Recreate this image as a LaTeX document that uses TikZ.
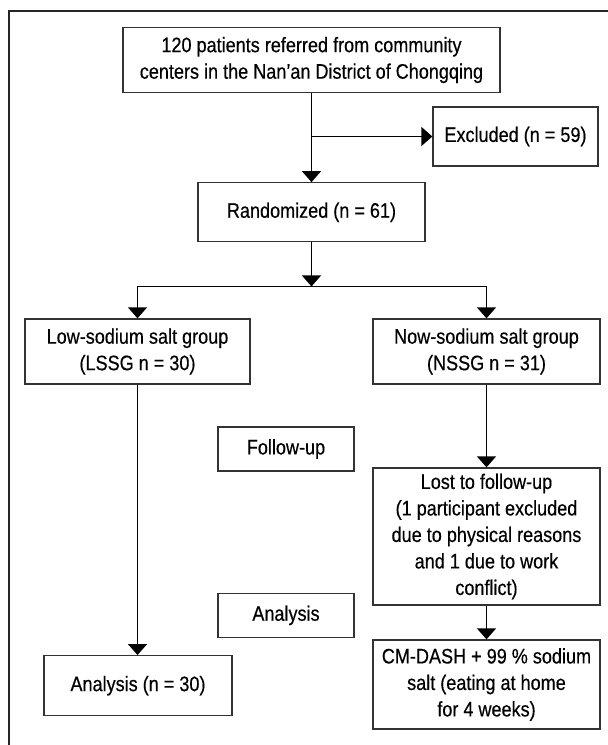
\documentclass[tikz,border=0pt]{standalone}
\usepackage{fontspec}
\setmainfont{Liberation Sans}[FakeStretch=0.86, FakeBold=0.4]
\usetikzlibrary{arrows.meta}

\begin{document}
\begin{tikzpicture}[
		x=1pt, y=-1pt,
		every node/.style={font=\fontsize{21}{26.5}\selectfont},
		flowbox/.style={draw=black!80, line width=1.3pt, align=center, inner sep=0pt},
		flow/.style={line width=1.4pt, -{Triangle[width=19pt,length=11pt]}}
		]
		\useasboundingbox (0,0) rectangle (608,745);
		\draw[line width=2.5pt, black!85] (608,11) -| (9,745);

		\node[flowbox, minimum width=377pt, minimum height=65pt] (src) at (311.5,60)
			{120 patients referred from community\\centers in the Nan’an District of Chongqing};
		\node[flowbox, minimum width=165pt, minimum height=59pt] (excl) at (515.5,136.5) {Excluded (n = 59)};
		\node[flowbox, minimum width=227pt, minimum height=59pt] (rand) at (311.5,212.3) {Randomized (n = 61)};
		\node[flowbox, minimum width=225pt, minimum height=65pt] (lssg) at (137.5,351.5)
			{Low-sodium salt group\\(LSSG n = 30)};
		\node[flowbox, minimum width=227pt, minimum height=65pt] (nssg) at (486.5,351.5)
			{Now-sodium salt group\\(NSSG n = 31)};
		\node[flowbox, minimum width=136pt, minimum height=44pt] (follow) at (286,449) {Follow-up};
		\node[flowbox, minimum width=227pt, minimum height=137pt] (lost) at (486.5,536.5)
			{Lost to follow-up\\(1 participant excluded\\due to physical reasons\\and 1 due to work\\conflict)};
		\node[flowbox, minimum width=136pt, minimum height=44pt] (anal) at (286,615.3) {Analysis};
		\node[flowbox, minimum width=227pt, minimum height=89pt] (cm) at (486.5,684.5)
			{CM-DASH + 99 \% sodium\\salt (eating at home\\for 4 weeks)};
		\node[flowbox, minimum width=188pt, minimum height=60pt] (analn) at (138,685.7) {Analysis (n = 30)};

		% connectors
		\coordinate (exsplit) at (src.south |- excl.west);
		\coordinate (fork) at ([yshift=-44pt]rand.south);
		\draw[flow] (src) -- (rand);
		\draw[flow] (exsplit) -- (excl.west);
		\draw[flow] (rand) -- (fork);
		\draw[flow] (fork) -| (lssg);
		\draw[flow] (fork) -| (nssg);
		\draw[flow] (lssg.south) -- (lssg.south |- analn.north);
		\draw[flow] (nssg) -- (lost);
		\draw[flow] (lost) -- (cm);
	\end{tikzpicture}
\end{document}
